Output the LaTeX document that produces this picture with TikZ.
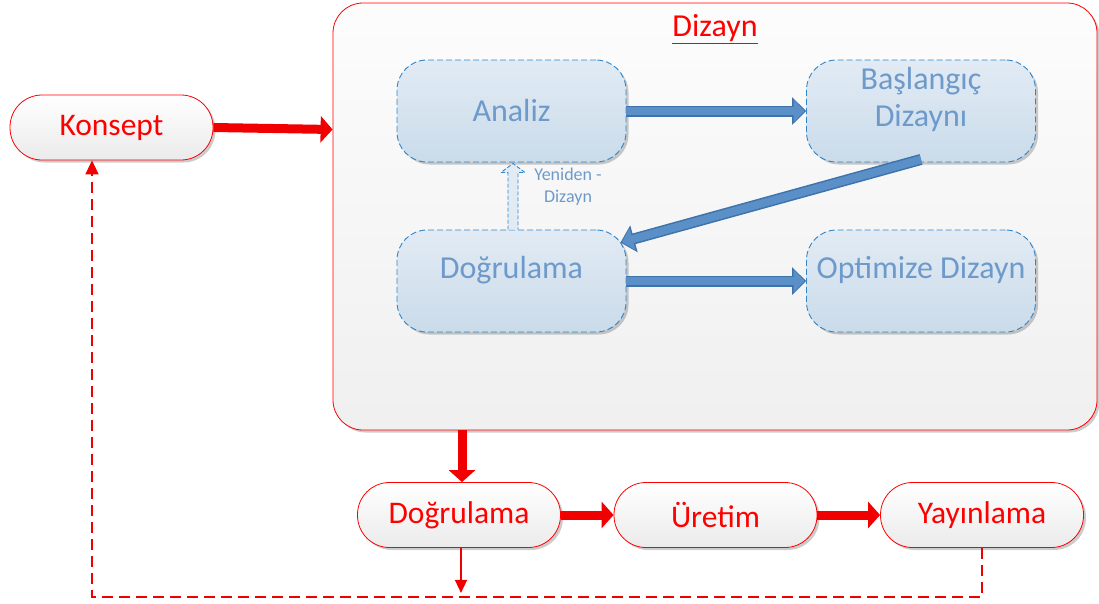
\documentclass[tikz,border=0pt]{standalone}
\usepackage{fontspec}
\setmainfont{Carlito}
\usetikzlibrary{arrows.meta,shadows,calc}
\definecolor{redc}{HTML}{F00000}
\definecolor{bdash}{HTML}{2F86CC}
\definecolor{bfillA}{HTML}{E2EBF4}
\definecolor{bfillB}{HTML}{CADBEA}
\definecolor{btext}{HTML}{6D9ACB}
\definecolor{barrow}{HTML}{5B8FC7}
\definecolor{barrowD}{HTML}{3E72AA}
\begin{document}
\begin{tikzpicture}[x=1pt,y=-1pt,
  shad/.style={drop shadow={shadow xshift=2.5pt,shadow yshift=-2.5pt,opacity=0.2,fill=black}},
  redbox/.style={draw=red, line width=0.8pt, rounded corners=32pt, minimum width=203pt,
    minimum height=65pt, top color=white, bottom color=black!8, text=red,
    font=\fontsize{31.5}{36}\selectfont, inner sep=0pt, shad},
  container/.style={draw=red, line width=0.8pt, rounded corners=30pt, minimum width=764pt,
    minimum height=427pt, top color=black!1, bottom color=black!6, inner sep=0pt, shad},
  bluebox/.style={draw=bdash, dash pattern=on 6pt off 3pt, line width=0.9pt, rounded corners=30pt,
    minimum width=229pt, minimum height=102pt, top color=bfillA, bottom color=bfillB,
    inner sep=0pt, shad},
  btxt/.style={text=btext, font=\fontsize{32}{37}\selectfont, align=center},
  redarrow/.style={draw=redc, line width=9pt, -{Triangle[length=12pt,width=26pt]}},
  bluearrowA/.style={draw=barrowD, line width=11pt, -{Triangle[length=14pt,width=27pt]}},
  bluearrowB/.style={draw=barrow, line width=8pt, -{Triangle[length=11pt,width=22pt]}},
  reddash/.style={draw=redc, line width=1.8pt, dash pattern=on 11pt off 6pt},
  thinarrow/.style={draw=redc, line width=1.6pt, -{Triangle[length=13pt,width=12pt]}},
]
\useasboundingbox (0,0) rectangle (1099,603);

% container
\node[container] (diz) at (715,216.5) {};
\node[text=red, font=\fontsize{32}{36}\selectfont] (dtitle) at (715,29) {\underline{Dizayn}};

% left and bottom red boxes
\node[redbox] (kon) at (111.5,127.5) {Konsept};
\node[redbox] (dogb) at (459,515) {Doğrulama};
\node[redbox] (ure) at (715.5,515) {Üretim};
\node[redbox] (yay) at (982,515) {Yayınlama};

% inner blue boxes
\node[bluebox] (ana) at (511.5,111) {};
\node[btxt] (anat) at (ana.center) {Analiz};
\node[bluebox] (bas) at (921,111) {};
\node[btxt] (bast) at ($(bas.center)+(0,-12)$) {Başlangıç\\Dizaynı};
\node[bluebox] (dog) at (511.5,281) {};
\node[btxt] (dogt) at ($(dog.center)+(0,-11)$) {Doğrulama};
\node[bluebox] (opt) at (921,281) {};
\node[btxt] (optt) at ($(opt.center)+(0,-11)$) {Optimize Dizayn};

% blue arrows
\coordinate (bstart) at ($(bas.south)+(0,-3)$);
\coordinate (dtip) at ($(dog.north east)+(-6,13)$);
\draw[bluearrowA] (ana.east) -- (bas.west);
\draw[bluearrowB] (ana.east) -- ($(bas.west)+(-1.5,0)$);
\draw[bluearrowA] (bstart) -- (dtip);
\draw[bluearrowB] (bstart) -- ($(dtip)!1.5pt!(bstart)$);
\draw[bluearrowA] (dog.east) -- (opt.west);
\draw[bluearrowB] (dog.east) -- ($(opt.west)+(-1.5,0)$);

% Yeniden - Dizayn hollow arrow
\coordinate (yb) at ($(dog.north)+(1.5,0)$);
\coordinate (yt) at ($(ana.south)+(1.5,1)$);
\draw[draw=bdash, dash pattern=on 4pt off 2pt, line width=0.9pt, fill=bfillA]
  ($(yb)+(-5,0)$) -- ($(yt)+(-5,9)$) -- ($(yt)+(-12,9)$) -- (yt) -- ($(yt)+(12,9)$)
  -- ($(yt)+(5,9)$) -- ($(yb)+(5,0)$);
\node[text=btext, font=\fontsize{18}{22}\selectfont, align=center] (yen) at (568,187) {Yeniden -\\Dizayn};

% red arrows
\coordinate (kend) at ($(diz.west)+(0,-87)$);
\draw[redarrow] (kon.east) -- (kend);
\draw[redarrow] ($(dogb.north |- diz.south)+(3,0)$) -- ($(dogb.north)+(3,0)$);
\draw[redarrow] (dogb.east) -- (ure.west);
\draw[redarrow] (ure.east) -- (yay.west);

% feedback dashed loop
\coordinate (loopR) at (982,597);
\coordinate (loopL) at (92,597);
\coordinate (konin) at ($(kon.south)+(-19.5,0)$);
\draw[reddash] (yay.south) -- (loopR) -- (loopL) -- ($(konin)+(0,14)$);
\draw[draw=redc, line width=1.8pt, -{Triangle[length=14pt,width=13pt]}] ($(konin)+(0,16)$) -- (konin);
\coordinate (tdown) at ($(dogb.south)+(2,45)$);
\draw[thinarrow] ($(dogb.south)+(2,0)$) -- (tdown);
\end{tikzpicture}
\end{document}
